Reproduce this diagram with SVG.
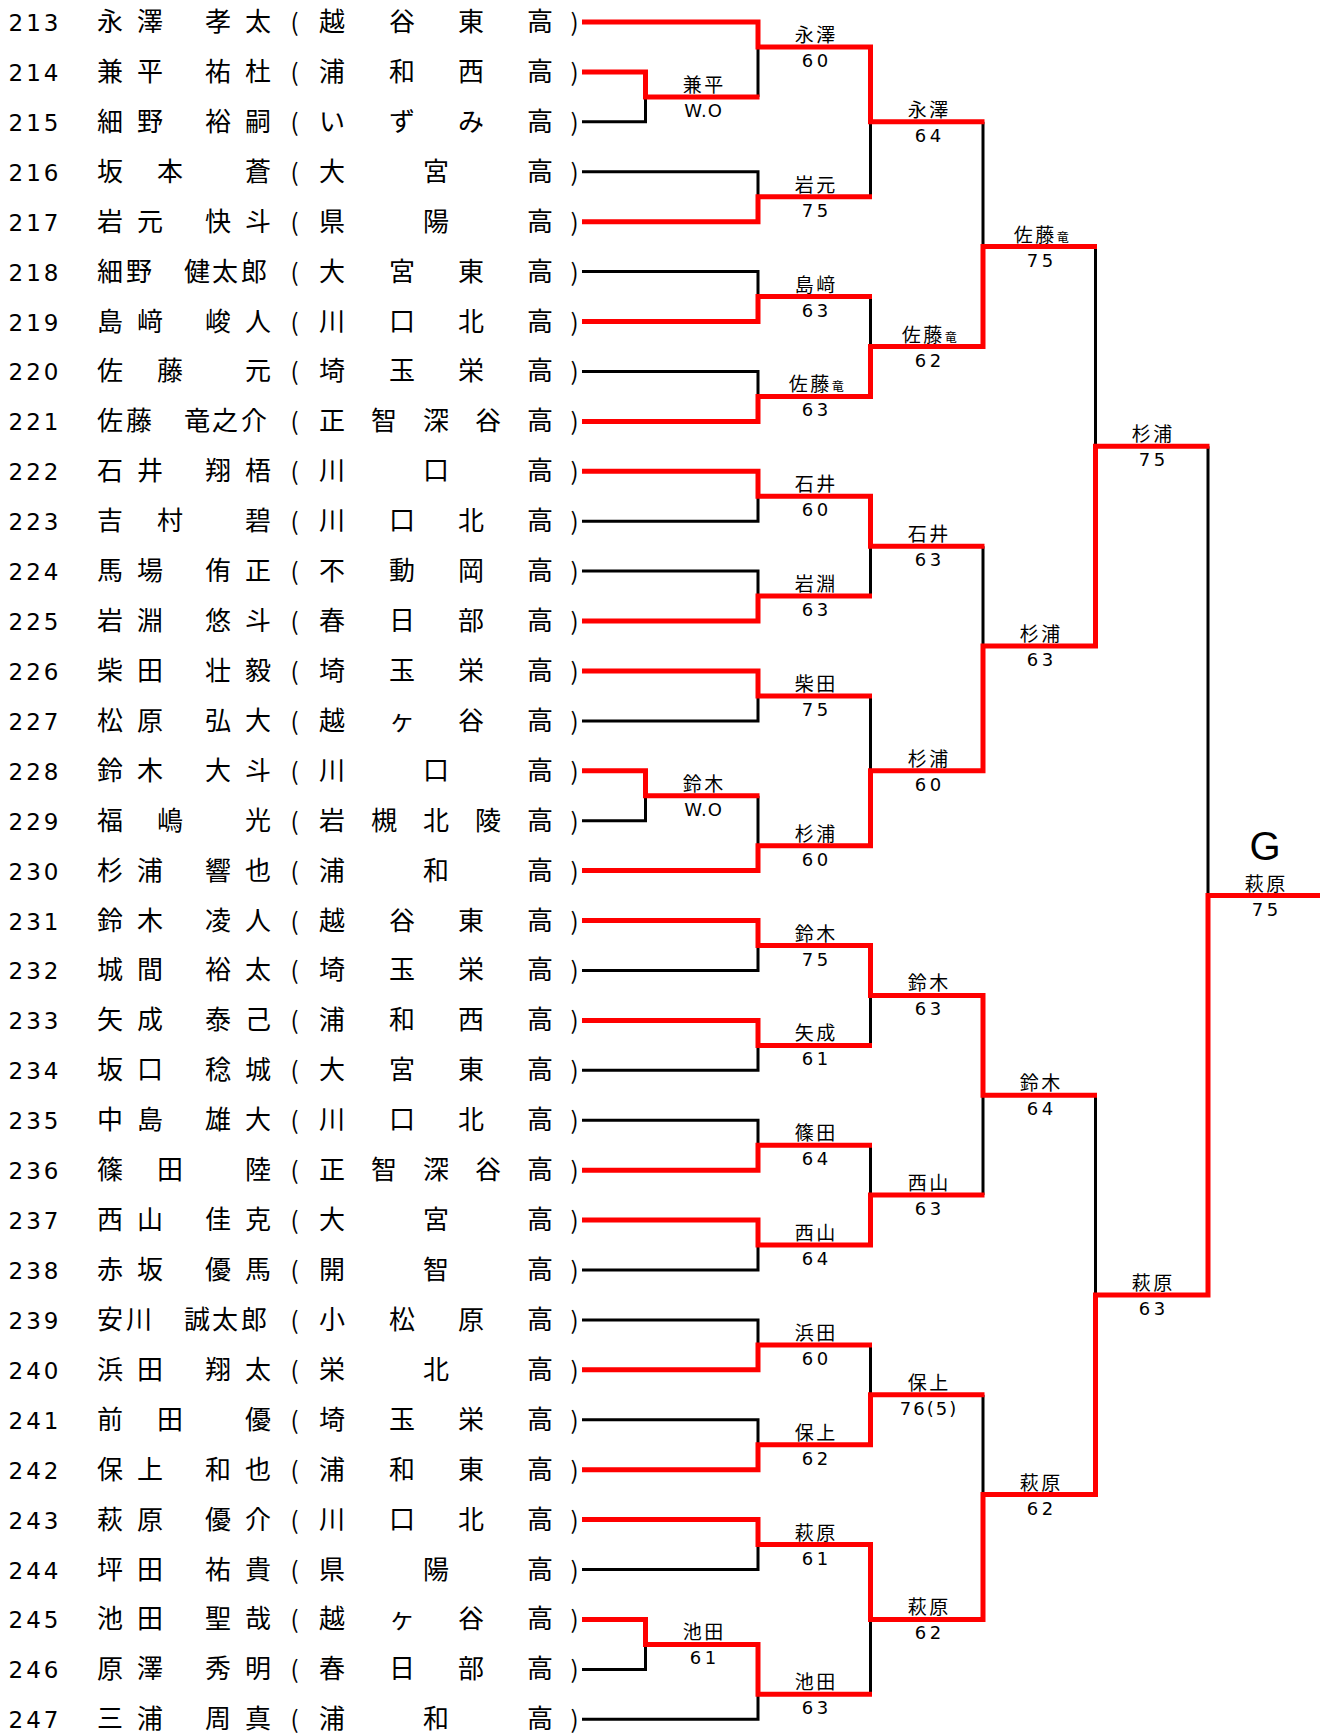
<svg xmlns="http://www.w3.org/2000/svg" width="1325" height="1733" viewBox="0 0 1325 1733">
<style>
.n{font-family:"DejaVu Sans",sans-serif;font-size:23px;letter-spacing:3px;fill:#000}
.j{font-family:"Noto Sans CJK JP",sans-serif;font-size:26px;fill:#000}
.pa{font-family:"Noto Sans CJK JP",sans-serif;font-size:24px;fill:#000}
.ln{font-family:"Noto Sans CJK JP",sans-serif;font-size:19px;letter-spacing:2.5px;text-anchor:middle;fill:#000}
.sc{font-family:"DejaVu Sans",sans-serif;font-size:18px;letter-spacing:3.5px;text-anchor:middle;fill:#000}
.wo{font-family:"DejaVu Sans",sans-serif;font-size:18px;letter-spacing:1px;text-anchor:middle;fill:#000}
.g{font-family:"Liberation Sans",sans-serif;font-size:40px;text-anchor:middle;fill:#000}
.sm{font-size:12px;letter-spacing:0}
.r{stroke:#f00;stroke-width:5;fill:none;stroke-linejoin:miter}
.b{stroke:#000;stroke-width:3;fill:none;stroke-linejoin:miter}
</style>
<rect width="1325" height="1733" fill="#fff"/>
<g id="players">
<g id="p213" transform="translate(0,22)"><text class="n" x="8.5" y="9">213</text><text class="j" x="97 137 205 245" y="9">永澤孝太</text><text class="pa" x="290.5" y="9">(</text><text class="j" x="319 389 458 527" y="9">越谷東高</text><text class="pa" x="570.5" y="9">)</text></g>
<g id="p214" transform="translate(0,71.92)"><text class="n" x="8.5" y="9">214</text><text class="j" x="97 137 205 245" y="9">兼平祐杜</text><text class="pa" x="290.5" y="9">(</text><text class="j" x="319 389 458 527" y="9">浦和西高</text><text class="pa" x="570.5" y="9">)</text></g>
<g id="p215" transform="translate(0,121.84)"><text class="n" x="8.5" y="9">215</text><text class="j" x="97 137 205 245" y="9">細野裕嗣</text><text class="pa" x="290.5" y="9">(</text><text class="j" x="319 389 458 527" y="9">いずみ高</text><text class="pa" x="570.5" y="9">)</text></g>
<g id="p216" transform="translate(0,171.76)"><text class="n" x="8.5" y="9">216</text><text class="j" x="97 157 245" y="9">坂本蒼</text><text class="pa" x="290.5" y="9">(</text><text class="j" x="319 423 527" y="9">大宮高</text><text class="pa" x="570.5" y="9">)</text></g>
<g id="p217" transform="translate(0,221.68)"><text class="n" x="8.5" y="9">217</text><text class="j" x="97 137 205 245" y="9">岩元快斗</text><text class="pa" x="290.5" y="9">(</text><text class="j" x="319 423 527" y="9">県陽高</text><text class="pa" x="570.5" y="9">)</text></g>
<g id="p218" transform="translate(0,271.6)"><text class="n" x="8.5" y="9">218</text><text class="j" x="97 126 184 212 241" y="9">細野健太郎</text><text class="pa" x="290.5" y="9">(</text><text class="j" x="319 389 458 527" y="9">大宮東高</text><text class="pa" x="570.5" y="9">)</text></g>
<g id="p219" transform="translate(0,321.52)"><text class="n" x="8.5" y="9">219</text><text class="j" x="97 137 205 245" y="9">島﨑峻人</text><text class="pa" x="290.5" y="9">(</text><text class="j" x="319 389 458 527" y="9">川口北高</text><text class="pa" x="570.5" y="9">)</text></g>
<g id="p220" transform="translate(0,371.44)"><text class="n" x="8.5" y="9">220</text><text class="j" x="97 157 245" y="9">佐藤元</text><text class="pa" x="290.5" y="9">(</text><text class="j" x="319 389 458 527" y="9">埼玉栄高</text><text class="pa" x="570.5" y="9">)</text></g>
<g id="p221" transform="translate(0,421.36)"><text class="n" x="8.5" y="9">221</text><text class="j" x="97 126 184 212 241" y="9">佐藤竜之介</text><text class="pa" x="290.5" y="9">(</text><text class="j" x="319 371 423 475 527" y="9">正智深谷高</text><text class="pa" x="570.5" y="9">)</text></g>
<g id="p222" transform="translate(0,471.28)"><text class="n" x="8.5" y="9">222</text><text class="j" x="97 137 205 245" y="9">石井翔梧</text><text class="pa" x="290.5" y="9">(</text><text class="j" x="319 423 527" y="9">川口高</text><text class="pa" x="570.5" y="9">)</text></g>
<g id="p223" transform="translate(0,521.2)"><text class="n" x="8.5" y="9">223</text><text class="j" x="97 157 245" y="9">吉村碧</text><text class="pa" x="290.5" y="9">(</text><text class="j" x="319 389 458 527" y="9">川口北高</text><text class="pa" x="570.5" y="9">)</text></g>
<g id="p224" transform="translate(0,571.12)"><text class="n" x="8.5" y="9">224</text><text class="j" x="97 137 205 245" y="9">馬場侑正</text><text class="pa" x="290.5" y="9">(</text><text class="j" x="319 389 458 527" y="9">不動岡高</text><text class="pa" x="570.5" y="9">)</text></g>
<g id="p225" transform="translate(0,621.04)"><text class="n" x="8.5" y="9">225</text><text class="j" x="97 137 205 245" y="9">岩淵悠斗</text><text class="pa" x="290.5" y="9">(</text><text class="j" x="319 389 458 527" y="9">春日部高</text><text class="pa" x="570.5" y="9">)</text></g>
<g id="p226" transform="translate(0,670.96)"><text class="n" x="8.5" y="9">226</text><text class="j" x="97 137 205 245" y="9">柴田壮毅</text><text class="pa" x="290.5" y="9">(</text><text class="j" x="319 389 458 527" y="9">埼玉栄高</text><text class="pa" x="570.5" y="9">)</text></g>
<g id="p227" transform="translate(0,720.88)"><text class="n" x="8.5" y="9">227</text><text class="j" x="97 137 205 245" y="9">松原弘大</text><text class="pa" x="290.5" y="9">(</text><text class="j" x="319 389 458 527" y="9">越ヶ谷高</text><text class="pa" x="570.5" y="9">)</text></g>
<g id="p228" transform="translate(0,770.8)"><text class="n" x="8.5" y="9">228</text><text class="j" x="97 137 205 245" y="9">鈴木大斗</text><text class="pa" x="290.5" y="9">(</text><text class="j" x="319 423 527" y="9">川口高</text><text class="pa" x="570.5" y="9">)</text></g>
<g id="p229" transform="translate(0,820.72)"><text class="n" x="8.5" y="9">229</text><text class="j" x="97 157 245" y="9">福嶋光</text><text class="pa" x="290.5" y="9">(</text><text class="j" x="319 371 423 475 527" y="9">岩槻北陵高</text><text class="pa" x="570.5" y="9">)</text></g>
<g id="p230" transform="translate(0,870.64)"><text class="n" x="8.5" y="9">230</text><text class="j" x="97 137 205 245" y="9">杉浦響也</text><text class="pa" x="290.5" y="9">(</text><text class="j" x="319 423 527" y="9">浦和高</text><text class="pa" x="570.5" y="9">)</text></g>
<g id="p231" transform="translate(0,920.56)"><text class="n" x="8.5" y="9">231</text><text class="j" x="97 137 205 245" y="9">鈴木凌人</text><text class="pa" x="290.5" y="9">(</text><text class="j" x="319 389 458 527" y="9">越谷東高</text><text class="pa" x="570.5" y="9">)</text></g>
<g id="p232" transform="translate(0,970.48)"><text class="n" x="8.5" y="9">232</text><text class="j" x="97 137 205 245" y="9">城間裕太</text><text class="pa" x="290.5" y="9">(</text><text class="j" x="319 389 458 527" y="9">埼玉栄高</text><text class="pa" x="570.5" y="9">)</text></g>
<g id="p233" transform="translate(0,1020.4)"><text class="n" x="8.5" y="9">233</text><text class="j" x="97 137 205 245" y="9">矢成泰己</text><text class="pa" x="290.5" y="9">(</text><text class="j" x="319 389 458 527" y="9">浦和西高</text><text class="pa" x="570.5" y="9">)</text></g>
<g id="p234" transform="translate(0,1070.32)"><text class="n" x="8.5" y="9">234</text><text class="j" x="97 137 205 245" y="9">坂口稔城</text><text class="pa" x="290.5" y="9">(</text><text class="j" x="319 389 458 527" y="9">大宮東高</text><text class="pa" x="570.5" y="9">)</text></g>
<g id="p235" transform="translate(0,1120.24)"><text class="n" x="8.5" y="9">235</text><text class="j" x="97 137 205 245" y="9">中島雄大</text><text class="pa" x="290.5" y="9">(</text><text class="j" x="319 389 458 527" y="9">川口北高</text><text class="pa" x="570.5" y="9">)</text></g>
<g id="p236" transform="translate(0,1170.16)"><text class="n" x="8.5" y="9">236</text><text class="j" x="97 157 245" y="9">篠田陸</text><text class="pa" x="290.5" y="9">(</text><text class="j" x="319 371 423 475 527" y="9">正智深谷高</text><text class="pa" x="570.5" y="9">)</text></g>
<g id="p237" transform="translate(0,1220.08)"><text class="n" x="8.5" y="9">237</text><text class="j" x="97 137 205 245" y="9">西山佳克</text><text class="pa" x="290.5" y="9">(</text><text class="j" x="319 423 527" y="9">大宮高</text><text class="pa" x="570.5" y="9">)</text></g>
<g id="p238" transform="translate(0,1270)"><text class="n" x="8.5" y="9">238</text><text class="j" x="97 137 205 245" y="9">赤坂優馬</text><text class="pa" x="290.5" y="9">(</text><text class="j" x="319 423 527" y="9">開智高</text><text class="pa" x="570.5" y="9">)</text></g>
<g id="p239" transform="translate(0,1319.92)"><text class="n" x="8.5" y="9">239</text><text class="j" x="97 126 184 212 241" y="9">安川誠太郎</text><text class="pa" x="290.5" y="9">(</text><text class="j" x="319 389 458 527" y="9">小松原高</text><text class="pa" x="570.5" y="9">)</text></g>
<g id="p240" transform="translate(0,1369.84)"><text class="n" x="8.5" y="9">240</text><text class="j" x="97 137 205 245" y="9">浜田翔太</text><text class="pa" x="290.5" y="9">(</text><text class="j" x="319 423 527" y="9">栄北高</text><text class="pa" x="570.5" y="9">)</text></g>
<g id="p241" transform="translate(0,1419.76)"><text class="n" x="8.5" y="9">241</text><text class="j" x="97 157 245" y="9">前田優</text><text class="pa" x="290.5" y="9">(</text><text class="j" x="319 389 458 527" y="9">埼玉栄高</text><text class="pa" x="570.5" y="9">)</text></g>
<g id="p242" transform="translate(0,1469.68)"><text class="n" x="8.5" y="9">242</text><text class="j" x="97 137 205 245" y="9">保上和也</text><text class="pa" x="290.5" y="9">(</text><text class="j" x="319 389 458 527" y="9">浦和東高</text><text class="pa" x="570.5" y="9">)</text></g>
<g id="p243" transform="translate(0,1519.6)"><text class="n" x="8.5" y="9">243</text><text class="j" x="97 137 205 245" y="9">萩原優介</text><text class="pa" x="290.5" y="9">(</text><text class="j" x="319 389 458 527" y="9">川口北高</text><text class="pa" x="570.5" y="9">)</text></g>
<g id="p244" transform="translate(0,1569.52)"><text class="n" x="8.5" y="9">244</text><text class="j" x="97 137 205 245" y="9">坪田祐貴</text><text class="pa" x="290.5" y="9">(</text><text class="j" x="319 423 527" y="9">県陽高</text><text class="pa" x="570.5" y="9">)</text></g>
<g id="p245" transform="translate(0,1619.44)"><text class="n" x="8.5" y="9">245</text><text class="j" x="97 137 205 245" y="9">池田聖哉</text><text class="pa" x="290.5" y="9">(</text><text class="j" x="319 389 458 527" y="9">越ヶ谷高</text><text class="pa" x="570.5" y="9">)</text></g>
<g id="p246" transform="translate(0,1669.36)"><text class="n" x="8.5" y="9">246</text><text class="j" x="97 137 205 245" y="9">原澤秀明</text><text class="pa" x="290.5" y="9">(</text><text class="j" x="319 389 458 527" y="9">春日部高</text><text class="pa" x="570.5" y="9">)</text></g>
<g id="p247" transform="translate(0,1719.28)"><text class="n" x="8.5" y="9">247</text><text class="j" x="97 137 205 245" y="9">三浦周真</text><text class="pa" x="290.5" y="9">(</text><text class="j" x="319 423 527" y="9">浦和高</text><text class="pa" x="570.5" y="9">)</text></g>
</g>
<g id="connectors">
<g class="b">
<path d="M582 121.8H645.5V96.9"/>
<path d="M582 171.8H758V196.7"/>
<path d="M582 271.6H758V296.6"/>
<path d="M582 371.4H758V396.4"/>
<path d="M582 521.2H758V496.2"/>
<path d="M582 571.1H758V596.1"/>
<path d="M582 720.9H758V695.9"/>
<path d="M582 820.7H645.5V795.8"/>
<path d="M582 970.5H758V945.5"/>
<path d="M582 1070.3H758V1045.4"/>
<path d="M582 1120.2H758V1145.2"/>
<path d="M582 1270H758V1245"/>
<path d="M582 1319.9H758V1344.9"/>
<path d="M582 1419.8H758V1444.7"/>
<path d="M582 1569.5H758V1544.6"/>
<path d="M582 1669.4H645.5V1644.4"/>
<path d="M582 1719.3H758V1694.3"/>
<path d="M758 96.9V47"/>
<path d="M758 795.8V845.7"/>
<path d="M870.5 196.7V121.8"/>
<path d="M870.5 296.6V346.5"/>
<path d="M870.5 596.1V546.2"/>
<path d="M870.5 695.9V770.8"/>
<path d="M870.5 1045.4V995.4"/>
<path d="M870.5 1145.2V1195.1"/>
<path d="M870.5 1344.9V1394.8"/>
<path d="M870.5 1694.3V1619.4"/>
<path d="M983 121.8V246.6"/>
<path d="M983 546.2V646"/>
<path d="M983 1195.1V1095.3"/>
<path d="M983 1394.8V1494.6"/>
<path d="M1095.5 246.6V446.3"/>
<path d="M1095.5 1095.3V1295"/>
<path d="M1208 446.3V895.6"/>
</g>
<g class="r">
<path d="M582 71.9H645.5V96.9H759.5"/>
<path d="M582 22H758V47H870.5V121.8H984.5"/>
<path d="M582 221.7H758V196.7H872"/>
<path d="M582 321.5H758V296.6H872"/>
<path d="M582 421.4H758V396.4H870.5V346.5H983V246.6H1097"/>
<path d="M582 471.3H758V496.2H870.5V546.2H984.5"/>
<path d="M582 621H758V596.1H872"/>
<path d="M582 671H758V695.9H872"/>
<path d="M582 770.8H645.5V795.8H759.5"/>
<path d="M582 870.6H758V845.7H870.5V770.8H983V646H1095.5V446.3H1209.5"/>
<path d="M582 920.6H758V945.5H870.5V995.4H983V1095.3H1097"/>
<path d="M582 1020.4H758V1045.4H872"/>
<path d="M582 1170.2H758V1145.2H872"/>
<path d="M582 1220.1H758V1245H870.5V1195.1H984.5"/>
<path d="M582 1369.8H758V1344.9H872"/>
<path d="M582 1469.7H758V1444.7H870.5V1394.8H984.5"/>
<path d="M582 1519.6H758V1544.6H870.5V1619.4H983V1494.6H1095.5V1295H1208V895.6H1320"/>
<path d="M582 1619.4H645.5V1644.4H758V1694.3H872"/>
</g>
</g>
<g id="results">
<g id="m-p1" transform="translate(703,96.9)"><text class="ln" x="1.25" y="-5">兼平</text><text class="wo" x="0.5" y="20">W.O</text></g>
<g id="m-p2" transform="translate(703,795.8)"><text class="ln" x="1.25" y="-5">鈴木</text><text class="wo" x="0.5" y="20">W.O</text></g>
<g id="m-p3" transform="translate(703,1644.4)"><text class="ln" x="1.25" y="-5">池田</text><text class="sc" x="1.75" y="20">61</text></g>
<g id="m1-1" transform="translate(815,47)"><text class="ln" x="1.25" y="-5">永澤</text><text class="sc" x="1.75" y="20">60</text></g>
<g id="m1-2" transform="translate(815,196.7)"><text class="ln" x="1.25" y="-5">岩元</text><text class="sc" x="1.75" y="20">75</text></g>
<g id="m1-3" transform="translate(815,296.6)"><text class="ln" x="1.25" y="-5">島﨑</text><text class="sc" x="1.75" y="20">63</text></g>
<g id="m1-4" transform="translate(815,396.4)"><text class="ln" x="1.25" y="-5">佐藤<tspan class="sm">竜</tspan></text><text class="sc" x="1.75" y="20">63</text></g>
<g id="m1-5" transform="translate(815,496.2)"><text class="ln" x="1.25" y="-5">石井</text><text class="sc" x="1.75" y="20">60</text></g>
<g id="m1-6" transform="translate(815,596.1)"><text class="ln" x="1.25" y="-5">岩淵</text><text class="sc" x="1.75" y="20">63</text></g>
<g id="m1-7" transform="translate(815,695.9)"><text class="ln" x="1.25" y="-5">柴田</text><text class="sc" x="1.75" y="20">75</text></g>
<g id="m1-8" transform="translate(815,845.7)"><text class="ln" x="1.25" y="-5">杉浦</text><text class="sc" x="1.75" y="20">60</text></g>
<g id="m1-9" transform="translate(815,945.5)"><text class="ln" x="1.25" y="-5">鈴木</text><text class="sc" x="1.75" y="20">75</text></g>
<g id="m1-10" transform="translate(815,1045.4)"><text class="ln" x="1.25" y="-5">矢成</text><text class="sc" x="1.75" y="20">61</text></g>
<g id="m1-11" transform="translate(815,1145.2)"><text class="ln" x="1.25" y="-5">篠田</text><text class="sc" x="1.75" y="20">64</text></g>
<g id="m1-12" transform="translate(815,1245)"><text class="ln" x="1.25" y="-5">西山</text><text class="sc" x="1.75" y="20">64</text></g>
<g id="m1-13" transform="translate(815,1344.9)"><text class="ln" x="1.25" y="-5">浜田</text><text class="sc" x="1.75" y="20">60</text></g>
<g id="m1-14" transform="translate(815,1444.7)"><text class="ln" x="1.25" y="-5">保上</text><text class="sc" x="1.75" y="20">62</text></g>
<g id="m1-15" transform="translate(815,1544.6)"><text class="ln" x="1.25" y="-5">萩原</text><text class="sc" x="1.75" y="20">61</text></g>
<g id="m1-16" transform="translate(815,1694.3)"><text class="ln" x="1.25" y="-5">池田</text><text class="sc" x="1.75" y="20">63</text></g>
<g id="m2-1" transform="translate(928,121.8)"><text class="ln" x="1.25" y="-5">永澤</text><text class="sc" x="1.75" y="20">64</text></g>
<g id="m2-2" transform="translate(928,346.5)"><text class="ln" x="1.25" y="-5">佐藤<tspan class="sm">竜</tspan></text><text class="sc" x="1.75" y="20">62</text></g>
<g id="m2-3" transform="translate(928,546.2)"><text class="ln" x="1.25" y="-5">石井</text><text class="sc" x="1.75" y="20">63</text></g>
<g id="m2-4" transform="translate(928,770.8)"><text class="ln" x="1.25" y="-5">杉浦</text><text class="sc" x="1.75" y="20">60</text></g>
<g id="m2-5" transform="translate(928,995.4)"><text class="ln" x="1.25" y="-5">鈴木</text><text class="sc" x="1.75" y="20">63</text></g>
<g id="m2-6" transform="translate(928,1195.1)"><text class="ln" x="1.25" y="-5">西山</text><text class="sc" x="1.75" y="20">63</text></g>
<g id="m2-7" transform="translate(928,1394.8)"><text class="ln" x="1.25" y="-5">保上</text><text class="sc" x="1" y="20" style="letter-spacing:2px">76(5)</text></g>
<g id="m2-8" transform="translate(928,1619.4)"><text class="ln" x="1.25" y="-5">萩原</text><text class="sc" x="1.75" y="20">62</text></g>
<g id="m3-1" transform="translate(1040,246.6)"><text class="ln" x="1.25" y="-5">佐藤<tspan class="sm">竜</tspan></text><text class="sc" x="1.75" y="20">75</text></g>
<g id="m3-2" transform="translate(1040,646)"><text class="ln" x="1.25" y="-5">杉浦</text><text class="sc" x="1.75" y="20">63</text></g>
<g id="m3-3" transform="translate(1040,1095.3)"><text class="ln" x="1.25" y="-5">鈴木</text><text class="sc" x="1.75" y="20">64</text></g>
<g id="m3-4" transform="translate(1040,1494.6)"><text class="ln" x="1.25" y="-5">萩原</text><text class="sc" x="1.75" y="20">62</text></g>
<g id="m4-1" transform="translate(1152,446.3)"><text class="ln" x="1.25" y="-5">杉浦</text><text class="sc" x="1.75" y="20">75</text></g>
<g id="m4-2" transform="translate(1152,1295)"><text class="ln" x="1.25" y="-5">萩原</text><text class="sc" x="1.75" y="20">63</text></g>
<g id="final" transform="translate(1265,895.6)"><text class="g" x="0" y="-36">G</text><text class="ln" x="1.25" y="-5">萩原</text><text class="sc" x="1.75" y="20">75</text></g>
</g>
</svg>
